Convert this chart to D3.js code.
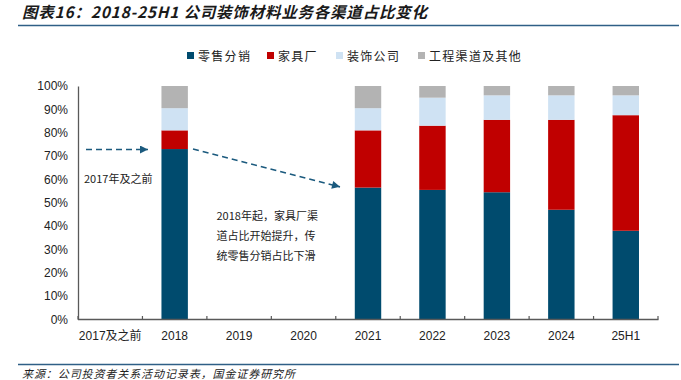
<!DOCTYPE html>
<html><head><meta charset="utf-8">
<script src="https://cdn.jsdelivr.net/npm/d3@7"></script>
<style>body{margin:0;background:#fff}svg{display:block}</style>
</head><body>
<svg id="c" width="681" height="380"></svg>
<script>
const categories = ["2017及之前","2018","2019","2020","2021","2022","2023","2024","25H1"];
const seriesNames = ["零售分销","家具厂","装饰公司","工程渠道及其他"];
const retail     = [null, 73,   null, null, 56.5, 55.5, 54.5, 47,   38];
const furniture  = [null, 8,    null, null, 24.5, 27.5, 31,   38.5, 49.5];
const decoration = [null, 9.5,  null, null, 9.5,  12,   10.5, 10.5, 8.5];
const engineering= [null, 9.5,  null, null, 9.5,  5,    4,    4,    4];
const yTicks = [0,10,20,30,40,50,60,70,80,90,100];
const colors = ["#004B6E","#C00000","#CFE2F3","#B3B3B3"];
const titleText = "图表16：2018-25H1 公司装饰材料业务各渠道占比变化";
const sourceText = "来源：公司投资者关系活动记录表，国金证券研究所";
const noteBefore = "2017年及之前";
const noteLines = ["2018年起，家具厂渠","道占比开始提升，传","统零售分销占比下滑"];

const svg = d3.select("#c");
const cjk = "'Noto Sans CJK SC','Noto Sans',sans-serif";
const latin = "'Liberation Sans',Arial,sans-serif";

// title
svg.append("text").attr("x",22).attr("y",18).attr("textLength",405).attr("lengthAdjust","spacing")
  .style("font-family",cjk).style("font-size","15.5px").style("font-weight","bold").style("font-style","italic")
  .attr("fill","#1a1a1a").text(titleText);
svg.append("line").attr("x1",18).attr("x2",679).attr("y1",25.5).attr("y2",25.5).attr("stroke","#2F5F86").attr("stroke-width",1.5);
// footer
svg.append("line").attr("x1",18).attr("x2",679).attr("y1",364.5).attr("y2",364.5).attr("stroke","#2F5F86").attr("stroke-width",1.5);
svg.append("text").attr("x",22).attr("y",377.5).attr("textLength",273).attr("lengthAdjust","spacing")
  .style("font-family",cjk).style("font-size","11px").style("font-style","italic").attr("fill","#222").text(sourceText);

const x = d3.scaleBand().domain(categories).range([78,658]).paddingInner(0.59).paddingOuter(0.295);
const y = d3.scaleLinear().domain([0,100]).range([319.5,86]);

// stack
const rows = categories.map((c,i)=>({cat:c, s0:retail[i], s1:furniture[i], s2:decoration[i], s3:engineering[i]}))
  .filter(r=>r.s0!=null);
const stack = d3.stack().keys(["s0","s1","s2","s3"])(rows);
const g = svg.append("g");
stack.forEach((layer,k)=>{
  g.selectAll(null).data(layer).enter().append("rect")
    .attr("x",d=>x(d.data.cat)).attr("width",x.bandwidth())
    .attr("y",d=>y(d[1])).attr("height",d=>y(d[0])-y(d[1]))
    .attr("fill",colors[k]);
});

// y axis
const yAxis = d3.axisLeft(y).tickValues(yTicks).tickFormat(d=>d+"%").tickSize(0).tickPadding(10);
const ya = svg.append("g").attr("transform","translate(78,0)").call(yAxis);
ya.select(".domain").attr("stroke","#595959").attr("stroke-width",1.3);
ya.selectAll("text").style("font-family",latin).style("font-size","12px").attr("fill","#222");

// x axis
const step = x.step();
const boundaries = d3.range(categories.length+1).map(i=>78+i*step);
svg.append("line").attr("x1",78).attr("x2",658.5).attr("y1",319.5).attr("y2",319.5).attr("stroke","#595959").attr("stroke-width",1.3);
svg.selectAll(null).data(boundaries).enter().append("line")
  .attr("x1",d=>d).attr("x2",d=>d).attr("y1",316).attr("y2",319.5).attr("stroke","#595959").attr("stroke-width",1.2);
svg.selectAll(null).data(categories).enter().append("text")
  .attr("x",d=>x(d)+x.bandwidth()/2).attr("y",340).attr("text-anchor","middle")
  .style("font-family",(d)=>/[\u4e00-\u9fff]/.test(d)?latin+",'Noto Sans CJK SC'":latin)
  .style("font-size","12px").attr("fill","#222").text(d=>d);

// legend
const legX = [187,267,336,418];
seriesNames.forEach((n,i)=>{
  svg.append("rect").attr("x",legX[i]).attr("y",52).attr("width",7).attr("height",7).attr("fill",colors[i]);
  svg.append("text").attr("x",legX[i]+11).attr("y",60.5).style("font-family",cjk).style("font-size","12px")
    .style("letter-spacing","1.3px").attr("fill","#222").text(n);
});

// arrows
const defs = svg.append("defs");
defs.append("marker").attr("id","ah").attr("viewBox","0 0 10 10").attr("refX",10).attr("refY",5)
  .attr("markerWidth",10).attr("markerHeight",8).attr("markerUnits","userSpaceOnUse").attr("orient","auto")
  .append("path").attr("d","M0,0L10,5L0,10Z").attr("fill","#1B5A7E");
svg.append("line").attr("x1",86).attr("y1",y(72.8)).attr("x2",148).attr("y2",y(72.8))
  .attr("stroke","#1B5A7E").attr("stroke-width",1.6).attr("stroke-dasharray","6,4").attr("marker-end","url(#ah)");
svg.append("line").attr("x1",193).attr("y1",y(73)).attr("x2",340).attr("y2",y(56.8))
  .attr("stroke","#1B5A7E").attr("stroke-width",1.6).attr("stroke-dasharray","6,4").attr("marker-end","url(#ah)");

// notes
svg.append("text").attr("x",84).attr("y",183).style("font-family",cjk).style("font-size","11px").attr("fill","#222").text(noteBefore);
noteLines.forEach((t,i)=>{
  svg.append("text").attr("x",216.5).attr("y",219.5+i*20).style("font-family",cjk).style("font-size","11px").attr("fill","#222").text(t);
});
</script>
</body></html>
